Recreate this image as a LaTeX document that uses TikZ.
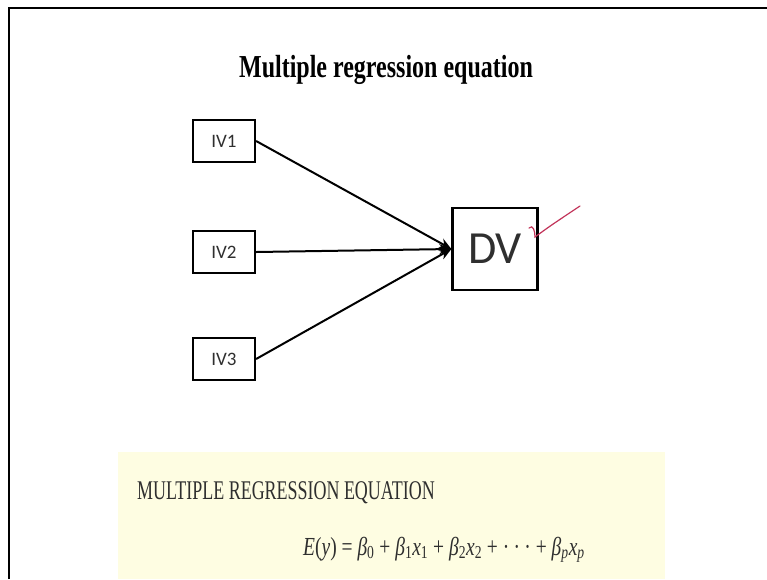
\documentclass[tikz,border=0pt]{standalone}
\usepackage{fontspec}
\setmainfont{Liberation Serif}
\newfontfamily\titlefont[FakeStretch=0.75]{Liberation Serif}
\newfontfamily\slidefont[FakeStretch=0.665]{Liberation Serif}
\newfontfamily\eqfont[FakeStretch=0.75]{Liberation Serif}
\newfontfamily\boxfont{Carlito}
\usetikzlibrary{arrows.meta}
\definecolor{kcream}{HTML}{FEFDE2}
\definecolor{kred}{HTML}{C2345A}
\definecolor{kgrey}{HTML}{2F2F2F}

\begin{document}
\begin{tikzpicture}[x=1pt, y=-1pt,
  ivbox/.style={draw, line width=2.2pt, minimum width=62pt, minimum height=42pt, inner sep=0pt,
    font=\boxfont\fontsize{19}{19}\selectfont, text=kgrey},
  link/.style={line width=2pt, -{Stealth[length=12pt, width=10pt]}}]
\useasboundingbox (0,0) rectangle (767,579);
\fill[white] (0,0) rectangle (767,579);
\draw[line width=2.2pt] (9,579) -- (9,8) -- (767,8);
\node[font=\titlefont\bfseries\fontsize{32}{32}\selectfont] (title) at (386,70) {Multiple regression equation};
\node[ivbox] (iv1) at (224,141) {IV1};
\node[ivbox] (iv2) at (224,252) {IV2};
\node[ivbox] (iv3) at (224,359) {IV3};
\node[draw, line width=2.2pt, minimum width=85pt, minimum height=82pt, inner sep=0pt,
  font=\boxfont\fontsize{46}{46}\selectfont, text=kgrey] (dv) at (495,249) {DV};
\draw[link] (iv1.east) -- (dv.west);
\draw[link] (iv2.east) -- (dv.west);
\draw[link] (iv3.east) -- (dv.west);
\draw[kred, line width=1.2pt, line cap=round]
  (529,228) .. controls (533,224) and (535,231) .. (535,237) .. controls (550,226) .. (580,206);
\fill[kcream] (118,452) rectangle (665,579);
\node[font=\slidefont\fontsize{27}{27}\selectfont, text=kgrey, anchor=base west, inner sep=0pt]
  (head) at (137,499) {MULTIPLE REGRESSION EQUATION};
\node[font=\eqfont\fontsize{26}{26}\selectfont, text=kgrey, anchor=base west, inner sep=0pt]
  (eqn) at (303,555) {\textit{E}(\textit{y}) = \textit{β}\textsubscript{0} + \textit{β}\textsubscript{1}\textit{x}\textsubscript{1} + \textit{β}\textsubscript{2}\textit{x}\textsubscript{2} + ·\,·\,· + \textit{β}\textsubscript{\textit{p}}\textit{x}\textsubscript{\textit{p}}};
\end{tikzpicture}
\end{document}
